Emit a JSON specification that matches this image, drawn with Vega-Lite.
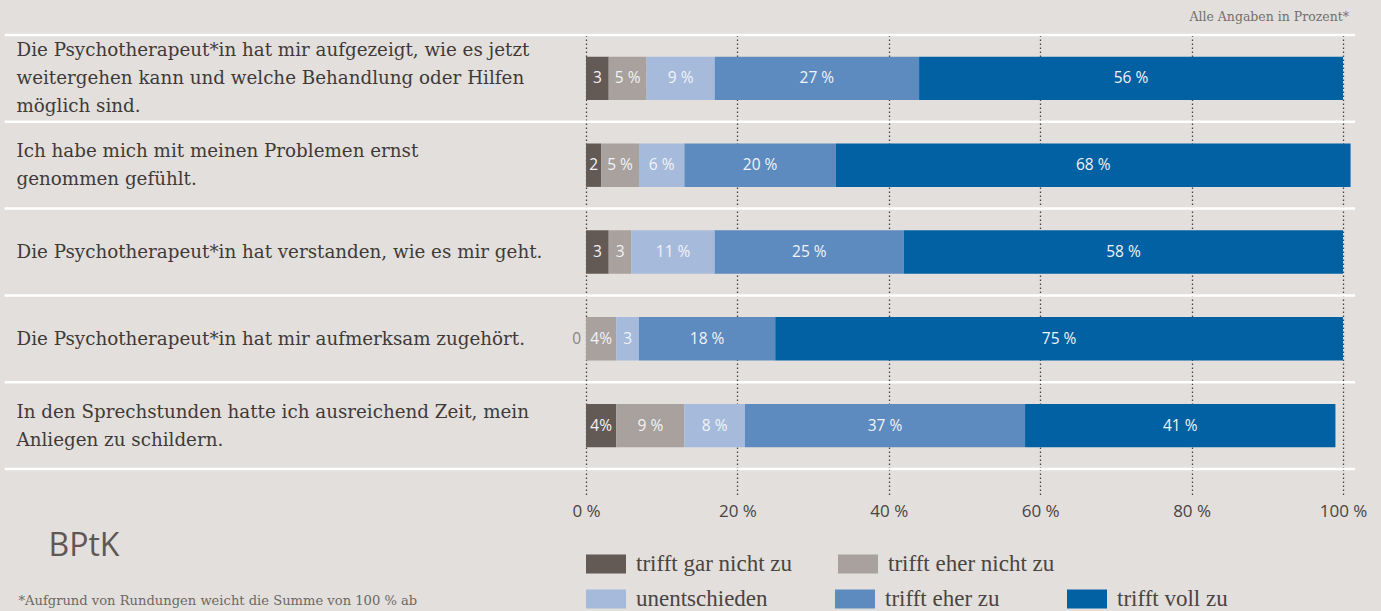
{
  "$schema": "https://vega.github.io/schema/vega-lite/v6.json",
  "width": 757,
  "height": 434,
  "autosize": {"type": "none"},
  "padding": {"left": 586, "top": 35, "right": 38, "bottom": 142},
  "background": "#e2dfdc",
  "config": {"view": {"stroke": null}},
  "title": {
    "text": "Alle Angaben in Prozent*",
    "anchor": "end",
    "frame": "group",
    "font": "DejaVu Serif",
    "fontSize": 12.5,
    "fontWeight": "normal",
    "color": "#756f6b",
    "offset": 10,
    "dx": 6
  },
  "layer": [
    {
      "data": {"values": [{"sep": 0}, {"sep": 1}, {"sep": 2}, {"sep": 3}, {"sep": 4}, {"sep": 5}]},
      "mark": {"type": "rule", "color": "#ffffff", "strokeWidth": 2.5},
      "encoding": {
        "x": {"datum": -76.8, "type": "quantitative"},
        "x2": {"datum": 101.6},
        "y": {"field": "sep", "type": "quantitative", "scale": {"domain": [0, 5], "nice": false}, "axis": null}
      }
    },
    {
      "data": {"values": [
        {"q": "Die Psychotherapeut*in hat mir aufgezeigt, wie es jetzt|weitergehen kann und welche Behandlung oder Hilfen|möglich sind.", "qo": 1, "a": "trifft gar nicht zu", "ao": 1, "v": 3, "l": "3"},
        {"q": "Die Psychotherapeut*in hat mir aufgezeigt, wie es jetzt|weitergehen kann und welche Behandlung oder Hilfen|möglich sind.", "qo": 1, "a": "trifft eher nicht zu", "ao": 2, "v": 5, "l": "5 %"},
        {"q": "Die Psychotherapeut*in hat mir aufgezeigt, wie es jetzt|weitergehen kann und welche Behandlung oder Hilfen|möglich sind.", "qo": 1, "a": "unentschieden", "ao": 3, "v": 9, "l": "9 %"},
        {"q": "Die Psychotherapeut*in hat mir aufgezeigt, wie es jetzt|weitergehen kann und welche Behandlung oder Hilfen|möglich sind.", "qo": 1, "a": "trifft eher zu", "ao": 4, "v": 27, "l": "27 %"},
        {"q": "Die Psychotherapeut*in hat mir aufgezeigt, wie es jetzt|weitergehen kann und welche Behandlung oder Hilfen|möglich sind.", "qo": 1, "a": "trifft voll zu", "ao": 5, "v": 56, "l": "56 %"},
        {"q": "Ich habe mich mit meinen Problemen ernst|genommen gefühlt.", "qo": 2, "a": "trifft gar nicht zu", "ao": 1, "v": 2, "l": "2"},
        {"q": "Ich habe mich mit meinen Problemen ernst|genommen gefühlt.", "qo": 2, "a": "trifft eher nicht zu", "ao": 2, "v": 5, "l": "5 %"},
        {"q": "Ich habe mich mit meinen Problemen ernst|genommen gefühlt.", "qo": 2, "a": "unentschieden", "ao": 3, "v": 6, "l": "6 %"},
        {"q": "Ich habe mich mit meinen Problemen ernst|genommen gefühlt.", "qo": 2, "a": "trifft eher zu", "ao": 4, "v": 20, "l": "20 %"},
        {"q": "Ich habe mich mit meinen Problemen ernst|genommen gefühlt.", "qo": 2, "a": "trifft voll zu", "ao": 5, "v": 68, "l": "68 %"},
        {"q": "Die Psychotherapeut*in hat verstanden, wie es mir geht.", "qo": 3, "a": "trifft gar nicht zu", "ao": 1, "v": 3, "l": "3"},
        {"q": "Die Psychotherapeut*in hat verstanden, wie es mir geht.", "qo": 3, "a": "trifft eher nicht zu", "ao": 2, "v": 3, "l": "3"},
        {"q": "Die Psychotherapeut*in hat verstanden, wie es mir geht.", "qo": 3, "a": "unentschieden", "ao": 3, "v": 11, "l": "11 %"},
        {"q": "Die Psychotherapeut*in hat verstanden, wie es mir geht.", "qo": 3, "a": "trifft eher zu", "ao": 4, "v": 25, "l": "25 %"},
        {"q": "Die Psychotherapeut*in hat verstanden, wie es mir geht.", "qo": 3, "a": "trifft voll zu", "ao": 5, "v": 58, "l": "58  %"},
        {"q": "Die Psychotherapeut*in hat mir aufmerksam zugehört.", "qo": 4, "a": "trifft gar nicht zu", "ao": 1, "v": 0, "l": "0"},
        {"q": "Die Psychotherapeut*in hat mir aufmerksam zugehört.", "qo": 4, "a": "trifft eher nicht zu", "ao": 2, "v": 4, "l": "4%"},
        {"q": "Die Psychotherapeut*in hat mir aufmerksam zugehört.", "qo": 4, "a": "unentschieden", "ao": 3, "v": 3, "l": "3"},
        {"q": "Die Psychotherapeut*in hat mir aufmerksam zugehört.", "qo": 4, "a": "trifft eher zu", "ao": 4, "v": 18, "l": "18 %"},
        {"q": "Die Psychotherapeut*in hat mir aufmerksam zugehört.", "qo": 4, "a": "trifft voll zu", "ao": 5, "v": 75, "l": "75 %"},
        {"q": "In den Sprechstunden hatte ich ausreichend Zeit, mein|Anliegen zu schildern.", "qo": 5, "a": "trifft gar nicht zu", "ao": 1, "v": 4, "l": "4%"},
        {"q": "In den Sprechstunden hatte ich ausreichend Zeit, mein|Anliegen zu schildern.", "qo": 5, "a": "trifft eher nicht zu", "ao": 2, "v": 9, "l": "9 %"},
        {"q": "In den Sprechstunden hatte ich ausreichend Zeit, mein|Anliegen zu schildern.", "qo": 5, "a": "unentschieden", "ao": 3, "v": 8, "l": "8 %"},
        {"q": "In den Sprechstunden hatte ich ausreichend Zeit, mein|Anliegen zu schildern.", "qo": 5, "a": "trifft eher zu", "ao": 4, "v": 37, "l": "37 %"},
        {"q": "In den Sprechstunden hatte ich ausreichend Zeit, mein|Anliegen zu schildern.", "qo": 5, "a": "trifft voll zu", "ao": 5, "v": 41, "l": "41 %"}
      ]},
      "transform": [
        {"stack": "v", "groupby": ["q"], "sort": [{"field": "ao", "order": "ascending"}], "as": ["x0", "x1"]},
        {"calculate": "(datum.x0 + datum.x1) / 2", "as": "mid"}
      ],
      "encoding": {
        "y": {
          "field": "q",
          "type": "nominal",
          "sort": {"field": "qo", "op": "min"},
          "scale": {"paddingInner": 0.5, "paddingOuter": 0.25},
          "axis": {
            "domain": false,
            "ticks": false,
            "grid": false,
            "labelAlign": "left",
            "labelBaseline": "middle",
            "labelPadding": 570,
            "labelExpr": "split(datum.value, '|')",
            "labelFont": "DejaVu Serif",
            "labelFontSize": 18.3,
            "labelColor": "#3f3a38",
            "labelLineHeight": 28,
            "labelLimit": 565,
            "labelOffset": {
              "condition": [
                {"test": "length(split(datum.value, '|')) == 3", "value": -27},
                {"test": "length(split(datum.value, '|')) == 2", "value": -13}
              ],
              "value": 1
            },
            "title": "BPtK",
            "titleAngle": 0,
            "titleX": -538,
            "titleY": 510,
            "titleAlign": "left",
            "titleBaseline": "middle",
            "titleFont": "Open Sans",
            "titleFontSize": 32,
            "titleFontWeight": "normal",
            "titleColor": "#5f5753"
          }
        }
      },
      "layer": [
        {
          "transform": [{"filter": "datum.ao <= 2"}],
          "mark": {"type": "bar"},
          "encoding": {
            "x": {
              "field": "x0",
              "type": "quantitative",
              "scale": {"domain": [0, 100], "nice": false},
              "axis": {
                "values": [0, 20, 40, 60, 80, 100],
                "domain": false,
                "grid": true,
                "gridDash": [1.5, 2.5],
                "gridColor": "#444444",
                "gridWidth": 1.3,
                "ticks": true,
                "tickSize": 28,
                "tickDash": [1.5, 2.5],
                "tickColor": "#444444",
                "tickWidth": 1.3,
                "labelFlush": false,
                "labelPadding": 6,
                "labelExpr": "datum.value + ' %'",
                "labelFont": "Open Sans",
                "labelFontSize": 17,
                "labelColor": "#4a4442",
                "title": "*Aufgrund von Rundungen weicht die Summe von 100 % ab",
                "titleX": -568,
                "titleY": 135,
                "titleAnchor": "start",
                "titleAlign": "left",
                "titleBaseline": "alphabetic",
                "titleFont": "DejaVu Serif",
                "titleFontSize": 13.1,
                "titleFontWeight": "normal",
                "titleColor": "#6d6864"
              }
            },
            "x2": {"field": "x1"},
            "color": {
              "field": "a",
              "type": "nominal",
              "scale": {"domain": ["trifft gar nicht zu", "trifft eher nicht zu"], "range": ["#635a55", "#a9a19d"]},
              "legend": {
                "orient": "none",
                "legendX": 0,
                "legendY": 509,
                "direction": "horizontal",
                "title": null,
                "padding": 0,
                "symbolType": "M-1,-0.475H1V0.475H-1Z",
                "symbolSize": 1600,
                "symbolStrokeWidth": 0,
                "labelFont": "Liberation Serif",
                "labelFontSize": 23,
                "labelColor": "#4a4442",
                "labelOffset": 10,
                "columnPadding": 45,
                "labelLimit": 300
              }
            }
          }
        },
        {
          "transform": [{"filter": "datum.ao >= 3"}],
          "mark": {"type": "bar"},
          "encoding": {
            "x": {"field": "x0", "type": "quantitative"},
            "x2": {"field": "x1"},
            "fill": {
              "field": "a",
              "type": "nominal",
              "scale": {"domain": ["unentschieden", "trifft eher zu", "trifft voll zu"], "range": ["#a6bbdc", "#5e8bbf", "#0261a2"]},
              "legend": {
                "orient": "none",
                "legendX": 0,
                "legendY": 544,
                "direction": "horizontal",
                "title": null,
                "padding": 0,
                "symbolType": "M-1,-0.475H1V0.475H-1Z",
                "symbolSize": 1600,
                "symbolStrokeWidth": 0,
                "labelFont": "Liberation Serif",
                "labelFontSize": 23,
                "labelColor": "#4a4442",
                "labelOffset": 10,
                "columnPadding": 67,
                "labelLimit": 300
              }
            }
          }
        },
        {
          "transform": [{"filter": "datum.v > 0"}],
          "mark": {"type": "text", "font": "Open Sans", "fontSize": 15.5, "color": "#f1f3f7"},
          "encoding": {
            "x": {"field": "mid", "type": "quantitative"},
            "text": {"field": "l"}
          }
        },
        {
          "transform": [{"filter": "datum.v == 0"}],
          "mark": {"type": "text", "font": "Open Sans", "fontSize": 15.5, "color": "#8a847f", "align": "right", "dx": -5},
          "encoding": {
            "x": {"field": "x0", "type": "quantitative"},
            "text": {"field": "l"}
          }
        }
      ]
    }
  ],
  "resolve": {"scale": {"y": "independent"}}
}
